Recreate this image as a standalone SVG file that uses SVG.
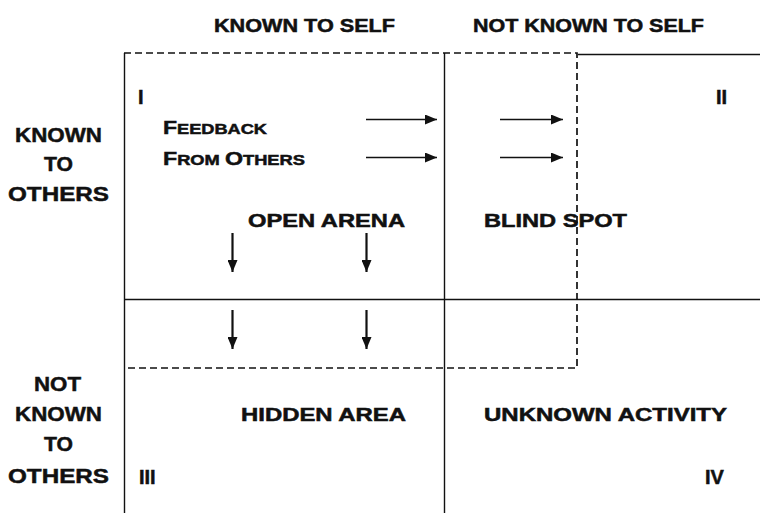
<svg xmlns="http://www.w3.org/2000/svg" width="760" height="513" viewBox="0 0 760 513">
  <style>
    text { font-family: "Liberation Sans", Arial, sans-serif; font-weight: bold; fill: #111; stroke: #111; stroke-width: 0.5; }
    .hd { font-size: 18px; }
    .side { font-size: 21px; }
    .area { font-size: 18px; }
    .num { font-size: 20px; }
    .fb { font-size: 19px; }
    .fb .sc { font-size: 15px; }
    .solid { stroke: #111; stroke-width: 1.4; fill: none; }
    .dash { stroke: #111; stroke-width: 1.7; fill: none; stroke-dasharray: 7 4; }
    .arrow { stroke: #111; stroke-width: 1.6; fill: none; marker-end: url(#head); }
    .down { stroke-width: 2.2; }
  </style>
  <defs>
    <marker id="head" viewBox="0 0 12 10" refX="12" refY="5" markerWidth="12" markerHeight="10" markerUnits="userSpaceOnUse" orient="auto">
      <path d="M0,0 L12,5 L0,10 Z" fill="#111"/>
    </marker>
  </defs>
  <rect width="760" height="513" fill="#fff"/>

  <!-- column headings -->
  <g id="col-known">
    <text class="hd" x="214" y="32" textLength="181" lengthAdjust="spacingAndGlyphs">KNOWN TO SELF</text>
  </g>
  <g id="col-not-known">
    <text class="hd" x="473" y="32" textLength="231" lengthAdjust="spacingAndGlyphs">NOT KNOWN TO SELF</text>
  </g>

  <!-- row headings -->
  <g id="row-known">
    <text class="side" x="15" y="142" textLength="87" lengthAdjust="spacingAndGlyphs">KNOWN</text>
    <text class="side" x="44" y="171" textLength="29" lengthAdjust="spacingAndGlyphs">TO</text>
    <text class="side" x="8" y="201" textLength="101" lengthAdjust="spacingAndGlyphs">OTHERS</text>
  </g>
  <g id="row-not-known">
    <text class="side" x="34" y="391" textLength="47" lengthAdjust="spacingAndGlyphs">NOT</text>
    <text class="side" x="15" y="421" textLength="87" lengthAdjust="spacingAndGlyphs">KNOWN</text>
    <text class="side" x="44" y="451" textLength="29" lengthAdjust="spacingAndGlyphs">TO</text>
    <text class="side" x="8" y="483" textLength="101" lengthAdjust="spacingAndGlyphs">OTHERS</text>
  </g>

  <!-- grid -->
  <g id="grid">
    <line class="solid" x1="124.5" y1="53" x2="124.5" y2="513"/>
    <line class="solid" x1="444.5" y1="53" x2="444.5" y2="513"/>
    <line class="solid" x1="578" y1="54.5" x2="760" y2="54.5"/>
    <line class="solid" x1="124" y1="299.5" x2="760" y2="299.5"/>
  </g>

  <!-- expanded open area boundary -->
  <g id="open-boundary">
    <polyline class="dash" points="124,53 577,53 577,368 124,368"/>
  </g>

  <!-- quadrant I -->
  <g id="open-arena">
    <text class="num" x="138" y="104">I</text>
    <text class="fb" x="163" y="134" textLength="104" lengthAdjust="spacingAndGlyphs"><tspan>F</tspan><tspan class="sc">EEDBACK</tspan></text>
    <text class="fb" x="163" y="165" textLength="142" lengthAdjust="spacingAndGlyphs"><tspan>F</tspan><tspan class="sc">ROM </tspan><tspan>O</tspan><tspan class="sc">THERS</tspan></text>
    <text class="area" x="248" y="227" textLength="157" lengthAdjust="spacingAndGlyphs">OPEN ARENA</text>
  </g>

  <!-- quadrant II -->
  <g id="blind-spot">
    <text class="num" x="716" y="104">II</text>
    <text class="area" x="484" y="227" textLength="143" lengthAdjust="spacingAndGlyphs">BLIND SPOT</text>
  </g>

  <!-- quadrant III -->
  <g id="hidden-area">
    <text class="num" x="139" y="484">III</text>
    <text class="area" x="241" y="421" textLength="165" lengthAdjust="spacingAndGlyphs">HIDDEN AREA</text>
  </g>

  <!-- quadrant IV -->
  <g id="unknown-activity">
    <text class="num" x="705" y="484">IV</text>
    <text class="area" x="484" y="421" textLength="243" lengthAdjust="spacingAndGlyphs">UNKNOWN ACTIVITY</text>
  </g>

  <!-- feedback and disclosure arrows -->
  <g id="connectors">
    <line class="arrow" x1="366" y1="119.5" x2="437" y2="119.5"/>
    <line class="arrow" x1="366" y1="157.5" x2="437" y2="157.5"/>
    <line class="arrow" x1="500" y1="119.5" x2="563" y2="119.5"/>
    <line class="arrow" x1="500" y1="157.5" x2="563" y2="157.5"/>
    <line class="arrow down" x1="232.5" y1="233" x2="232.5" y2="272"/>
    <line class="arrow down" x1="366.5" y1="233" x2="366.5" y2="272"/>
    <line class="arrow down" x1="232.5" y1="310" x2="232.5" y2="349"/>
    <line class="arrow down" x1="366.5" y1="310" x2="366.5" y2="349"/>
  </g>
</svg>
